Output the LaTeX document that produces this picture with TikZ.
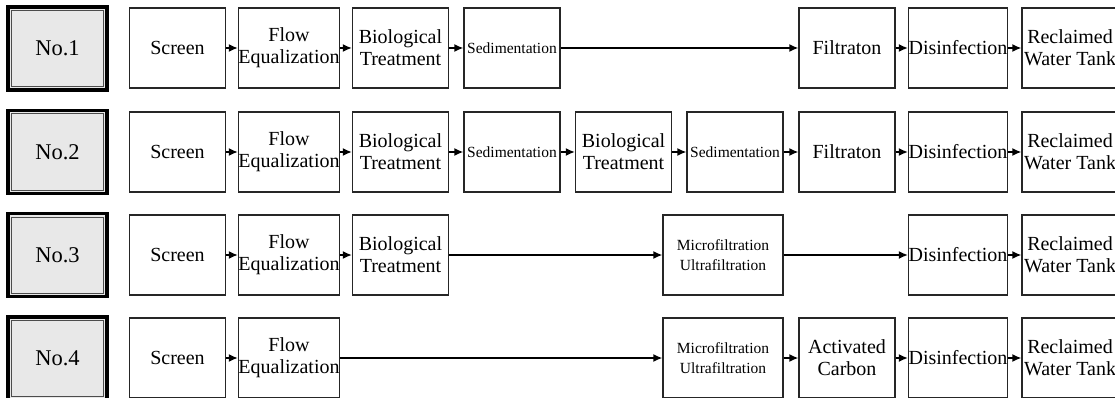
\documentclass[tikz,border=0pt]{standalone}
\usepackage{fontspec}
\setmainfont{Liberation Serif}
\usetikzlibrary{calc}
\usetikzlibrary{arrows.meta}
\tikzset{
	stagestyle/.style={rectangle,draw=black!85,line width=1.4pt,fill=white,minimum width=96pt,minimum height=80pt,inner sep=0pt,align=center,font=\fontsize{20}{22}\selectfont},
	smallstyle/.style={stagestyle,font=\fontsize{15.5}{20}\selectfont},
	widestyle/.style={smallstyle,minimum width=120pt},
	nostyle/.style={rectangle,draw=black,line width=3.2pt,fill=black!9,minimum width=99pt,minimum height=83pt,font=\fontsize{22.5}{26}\selectfont},
	flowstyle/.style={line width=1.4pt,-{Latex[length=9pt,width=8pt]}}
}
\begin{document}
\begin{tikzpicture}[x=1pt,y=-1pt]
		\useasboundingbox (0,0) rectangle (1115,398);
		% row 1
		\node[nostyle] (n1) at (57.5,48.5) {No.1};
		\draw[black!70,line width=0.8pt] ($(n1.north west)+(5,5)$) rectangle ($(n1.south east)+(-5,-5)$);
		\node[stagestyle] (s1) at (177.5,48) {Screen};
		\node[stagestyle] (f1) at (289,48) {Flow\\Equalization};
		\node[stagestyle] (b1) at (400.5,48) {Biological\\Treatment};
		\node[smallstyle] (d1) at (512,48) {Sedimentation};
		\node[stagestyle] (t1) at (847,48) {Filtraton};
		\node[stagestyle] (i1) at (958,48) {Disinfection};
		\node[stagestyle] (r1) at (1070,48) {Reclaimed\\Water Tank};
		\draw[flowstyle] (s1)--(f1);
		\draw[flowstyle] (f1)--(b1);
		\draw[flowstyle] (b1)--(d1);
		\draw[flowstyle] (d1)--(t1);
		\draw[flowstyle] (t1)--(i1);
		\draw[flowstyle] (i1)--(r1);
		% row 2
		\node[nostyle] (n2) at (57.5,152) {No.2};
		\draw[black!70,line width=0.8pt] ($(n2.north west)+(5,5)$) rectangle ($(n2.south east)+(-5,-5)$);
		\node[stagestyle] (s2) at (177.5,152) {Screen};
		\node[stagestyle] (f2) at (289,152) {Flow\\Equalization};
		\node[stagestyle] (b2) at (400.5,152) {Biological\\Treatment};
		\node[smallstyle] (d2) at (512,152) {Sedimentation};
		\node[stagestyle] (bb2) at (623.5,152) {Biological\\Treatment};
		\node[smallstyle] (dd2) at (735,152) {Sedimentation};
		\node[stagestyle] (t2) at (847,152) {Filtraton};
		\node[stagestyle] (i2) at (958,152) {Disinfection};
		\node[stagestyle] (r2) at (1070,152) {Reclaimed\\Water Tank};
		\draw[flowstyle] (s2)--(f2);
		\draw[flowstyle] (f2)--(b2);
		\draw[flowstyle] (b2)--(d2);
		\draw[flowstyle] (d2)--(bb2);
		\draw[flowstyle] (bb2)--(dd2);
		\draw[flowstyle] (dd2)--(t2);
		\draw[flowstyle] (t2)--(i2);
		\draw[flowstyle] (i2)--(r2);
		% row 3
		\node[nostyle] (n3) at (57.5,255) {No.3};
		\draw[black!70,line width=0.8pt] ($(n3.north west)+(5,5)$) rectangle ($(n3.south east)+(-5,-5)$);
		\node[stagestyle] (s3) at (177.5,255) {Screen};
		\node[stagestyle] (f3) at (289,255) {Flow\\Equalization};
		\node[stagestyle] (b3) at (400.5,255) {Biological\\Treatment};
		\node[widestyle] (m3) at (723,255) {Microfiltration\\Ultrafiltration};
		\node[stagestyle] (i3) at (958,255) {Disinfection};
		\node[stagestyle] (r3) at (1070,255) {Reclaimed\\Water Tank};
		\draw[flowstyle] (s3)--(f3);
		\draw[flowstyle] (f3)--(b3);
		\draw[flowstyle] (b3)--(m3);
		\draw[flowstyle] (m3)--(i3);
		\draw[flowstyle] (i3)--(r3);
		% row 4
		\node[nostyle] (n4) at (57.5,358.5) {No.4};
		\draw[black!70,line width=0.8pt] ($(n4.north west)+(5,5)$) rectangle ($(n4.south east)+(-5,-5)$);
		\node[stagestyle] (s4) at (177.5,358) {Screen};
		\node[stagestyle] (f4) at (289,358) {Flow\\Equalization};
		\node[widestyle] (m4) at (723,358) {Microfiltration\\Ultrafiltration};
		\node[stagestyle] (a4) at (847,358) {Activated\\Carbon};
		\node[stagestyle] (i4) at (958,358) {Disinfection};
		\node[stagestyle] (r4) at (1070,358) {Reclaimed\\Water Tank};
		\draw[flowstyle] (s4)--(f4);
		\draw[flowstyle] (f4)--(m4);
		\draw[flowstyle] (m4)--(a4);
		\draw[flowstyle] (a4)--(i4);
		\draw[flowstyle] (i4)--(r4);
\end{tikzpicture}
\end{document}
